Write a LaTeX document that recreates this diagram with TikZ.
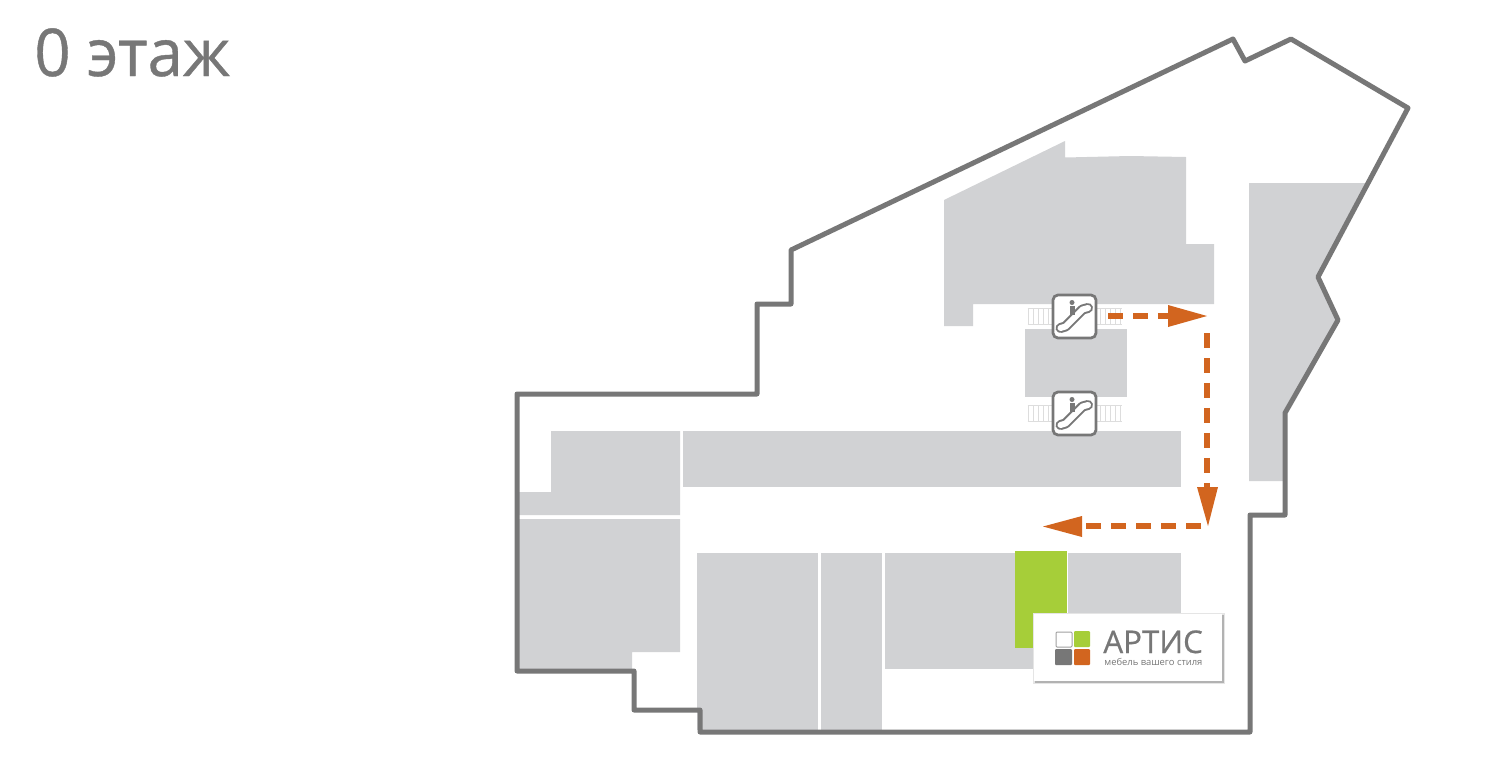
\documentclass[tikz,border=0pt]{standalone}
\usepackage{fontspec}
\setmainfont{Open Sans}
\newfontfamily\heavyfont[FakeBold=0.6]{Open Sans}
\definecolor{wallc}{HTML}{777777}
\definecolor{roomc}{HTML}{D1D2D4}
\definecolor{routec}{HTML}{D2651F}
\definecolor{shopc}{HTML}{A6CE39}
\definecolor{railc}{HTML}{DDDDDD}
\tikzset{
  x=0.02cm,y=-0.02cm,
  wall/.style={draw=wallc,line width=0.1cm,line join=round},
  room/.style={fill=roomc},
  route/.style={draw=routec,line width=0.125cm,dash pattern=on 0.3cm off 0.2cm},
  head/.style={fill=routec},
  logosq/.style={rounded corners=0.02cm},
  escal/.pic={
    \foreach \dx in {-46,-41,...,-21,21,26,...,46}
      \draw[railc,line width=0.03cm] (\dx,-8) -- (\dx,8);
    \draw[railc,line width=0.03cm] (-47,-8) -- (47,-8) (-47,8) -- (47,8);
    \draw[wallc,fill=white,line width=0.055cm,rounded corners=0.1cm] (-21.5,-21.5) rectangle (21.5,21.5);
    \draw[wallc,line width=0.2cm,line cap=round,line join=round] (-14,11.5) -- (-9,10) -- (8,-7) -- (13.5,-8.5);
    \draw[white,line width=0.12cm,line cap=round,line join=round] (-14,11.5) -- (-9,10) -- (8,-7) -- (13.5,-8.5);
    \fill[wallc] (-2.5,-14) circle[radius=2.5];
    \fill[wallc] (-5,-10.5) rectangle (0,-1.5);
  }
}
\begin{document}
\begin{tikzpicture}
\useasboundingbox (0,0) rectangle (1499,765);
\fill[white] (0,0) rectangle (1499,765);
% rooms
\fill[room] (944,200) -- (1065,141) -- (1065,157.5) -- (1130,156) -- (1186,157) -- (1186,244) -- (1214,244) -- (1214,304) -- (973,304) -- (973,326) -- (944,326) -- cycle;
\fill[room] (1249,183) -- (1366,183) -- (1318,277) -- (1338,320) -- (1285,413) -- (1283,481) -- (1249,481) -- cycle;
\fill[room] (1025,329) rectangle (1127,397);
\fill[room] (683,431) rectangle (1181,487);
\fill[room] (551,431) -- (680,431) -- (680,515) -- (519,515) -- (519,492) -- (551,492) -- cycle;
\fill[room] (519,519) -- (680,519) -- (680,652) -- (632,652) -- (632,669) -- (519,669) -- cycle;
\fill[room] (697,553) rectangle (818,730);
\fill[room] (821,553) rectangle (882,730);
\fill[room] (885,553) rectangle (1015,669);
\fill[room] (1015,648) rectangle (1040,669);
\fill[room] (1068,553) rectangle (1181,620);
\fill[shopc] (1015,551) rectangle (1067,648);
% outer wall
\draw[wall] (517,394) -- (757,394) -- (757,304) -- (791,304) -- (791,250) -- (1233,39) -- (1245,61) -- (1291,39) -- (1408,108) -- (1318,277) -- (1338,320) -- (1285,413) -- (1285,515) -- (1250,515) -- (1250,732) -- (700,732) -- (700,710) -- (634,710) -- (634,671) -- (517,671) -- cycle;
% escalators
\pic at (1074.5,316.5) {escal};
\pic at (1074.5,413.5) {escal};
% route
\coordinate (r1) at (1108,316);
\coordinate (r2) at (1168,316);
\coordinate (r3) at (1207,333);
\coordinate (r4) at (1207,488);
\coordinate (r5) at (1201,526);
\coordinate (r6) at (1082,526);
\draw[route] (r1) -- (r2);
\draw[route] (r3) -- (r4);
\draw[route] (r5) -- (r6);
\fill[head] (1168,305) -- (1207,316) -- (1168,327) -- cycle;
\fill[head] (1197,487) -- (1218,487) -- (1208,526) -- cycle;
\fill[head] (1082,516) -- (1043,526.5) -- (1082,537) -- cycle;
% logo
\fill[black!10] (1033,613) rectangle (1225,684);
\fill[black!30] (1034.5,614.5) rectangle (1224,683);
\node[fill=white,minimum width=3.76cm,minimum height=1.34cm,inner sep=0pt,anchor=north west] (logo) at (1034,614) {};
\draw[wallc!70,fill=white,logosq,line width=0.02cm] (1056,632) rectangle (1072,647);
\fill[shopc,logosq] (1074,631) rectangle (1090,647);
\fill[wallc,logosq] (1055,649) rectangle (1072,665);
\fill[routec,logosq] (1074,649) rectangle (1090,665);
\node[text=wallc,font=\heavyfont\fontsize{17.8pt}{17.8pt}\selectfont,inner sep=0pt,anchor=base west] (brand) at (1103,653) {АРТИС};
\node[text=wallc,font=\fontsize{5.35pt}{5.35pt}\selectfont,inner sep=0pt,anchor=base west] (slogan) at (1104,665.5) {мебель вашего стиля};
% title
\node[text=wallc,font=\heavyfont\fontsize{37.5pt}{37.5pt}\selectfont,inner sep=0pt,anchor=base west] (title) at (34,76) {\scalebox{.965}[1]{0 этаж}};
\end{tikzpicture}
\end{document}
